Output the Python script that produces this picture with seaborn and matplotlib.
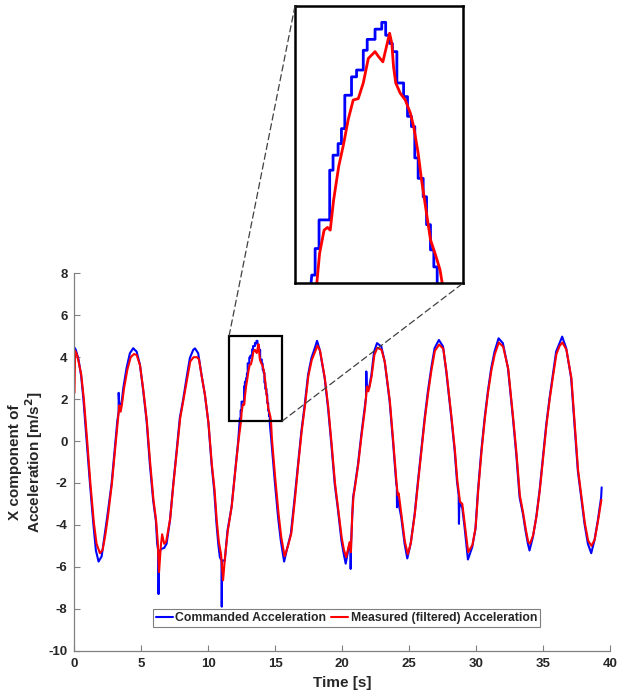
import numpy as np
import pandas as pd
import matplotlib
matplotlib.use("Agg")
import matplotlib.pyplot as plt
from matplotlib.patches import Rectangle, ConnectionPatch
import seaborn as sns

# ---------------- data ----------------
cmd_t = [0.00, 0.10, 0.30, 0.50, 0.66, 0.91, 1.16, 1.41, 1.60, 1.80, 2.03, 2.23, 2.45, 2.77, 3.02, 3.20,
         3.30, 3.30, 3.35, 3.52, 3.64, 3.89, 4.14, 4.39, 4.50, 4.64, 4.89, 5.14, 5.39, 5.63, 5.88, 6.08,
         6.18, 6.27, 6.28, 6.30, 6.50, 6.70, 6.88, 7.13, 7.38, 7.63, 7.87, 8.12, 8.37, 8.62, 8.87, 9.00,
         9.24, 9.49, 9.74, 10.00, 10.24, 10.44, 10.61, 10.74, 10.86, 10.98, 11.00, 11.03, 11.23, 11.43,
         11.73, 11.98, 12.23,
         12.35, 12.41, 12.41, 12.48, 12.48, 12.67, 12.67, 12.73, 12.73, 12.82, 12.82, 12.88, 12.88, 12.94,
         12.94, 13.06, 13.06, 13.15, 13.15, 13.27, 13.27, 13.34, 13.34, 13.48, 13.48, 13.60, 13.60, 13.67,
         13.67, 13.74, 13.74, 13.79, 13.79, 13.87, 13.87, 13.99, 13.99, 14.06, 14.06, 14.13, 14.13, 14.19,
         14.19, 14.25, 14.25, 14.34, 14.34, 14.40, 14.40, 14.47, 14.47, 14.53, 14.53, 14.59, 14.59,
         14.71, 14.96, 15.21, 15.41, 15.66, 15.91, 16.16, 16.45, 16.70, 16.95, 17.20, 17.45, 17.70, 17.95,
         18.12, 18.32, 18.69, 18.94, 19.19, 19.44, 19.69, 19.94, 20.11, 20.26, 20.45, 20.55, 20.62, 20.63,
         20.66, 20.81, 20.93, 21.18, 21.43, 21.68, 21.78, 21.80, 21.83, 22.00, 22.18, 22.38, 22.60, 22.92,
         23.17, 23.54, 23.79, 24.04, 24.08, 24.09, 24.12, 24.25, 24.41, 24.66, 24.86, 25.11, 25.41, 25.66,
         25.90, 26.16, 26.40, 26.65, 26.90, 27.22, 27.53, 27.77, 28.15, 28.40, 28.57, 28.70, 28.72, 28.75,
         28.97, 29.14, 29.39, 29.71, 29.95, 30.14, 30.39, 30.64, 30.88, 31.13, 31.38, 31.68, 32.00, 32.38,
         32.75, 33.00, 33.25, 33.50, 33.69, 33.87, 33.99, 34.24, 34.49, 34.74, 34.99, 35.24, 35.49, 35.73,
         35.98, 36.23, 36.43, 36.73, 37.10, 37.35, 37.60, 37.85, 38.10, 38.35, 38.60, 38.84, 39.09, 39.34,
         39.38]
cmd_v = [4.46, 4.35, 3.90, 3.10, 2.06, 0.00, -2.05, -3.95, -5.22, -5.75, -5.50, -4.59, -3.60, -2.05, -0.31, 0.95,
         1.40, 2.30, 1.73, 1.80, 2.50, 3.48, 4.19, 4.43, 4.35, 4.27, 3.64, 2.37, 0.95, -1.10, -2.84, -3.80,
         -4.90, -5.30, -7.30, -5.30, -5.14, -5.10, -4.90, -3.80, -2.05, -0.47, 1.11, 1.98, 3.00, 3.96, 4.35, 4.42,
         4.19, 3.16, 2.21, 0.90, -1.10, -2.37, -3.95, -4.90, -5.54, -5.70, -7.90, -5.70, -5.70, -4.27,
         -3.16, -1.58, 0.00,
         1.07, 1.07, 1.46, 1.46, 1.88, 1.88, 2.61, 2.61, 2.83, 2.83, 3.00, 3.00, 3.22, 3.22,
         3.71, 3.71, 3.98, 3.98, 4.08, 4.08, 4.37, 4.37, 4.53, 4.53, 4.68, 4.68, 4.78, 4.78,
         4.59, 4.59, 4.47, 4.47, 4.35, 4.35, 3.89, 3.89, 3.69, 3.69, 3.40, 3.40, 3.25, 3.25,
         2.79, 2.79, 2.49, 2.49, 2.22, 2.22, 1.81, 1.81, 1.44, 1.44, 1.19, 1.19, 0.85,
         0.00, -1.90, -3.64, -4.74, -5.75, -5.06, -4.43, -2.69, -1.10, 0.47, 1.74, 3.16, 3.96, 4.43,
         4.78, 4.35, 3.00, 1.58, -0.16, -2.05, -3.32, -4.74, -5.37, -5.85, -5.20, -4.90, -5.20, -6.10,
         -4.90, -2.69, -2.21, -1.10, 0.32, 1.58, 2.10, 3.32, 2.60, 2.53, 3.16, 4.27, 4.67, 4.51,
         3.80, 1.90, 0.00, -2.05, -2.20, -3.16, -2.70, -3.10, -3.64, -4.90, -5.60, -4.90, -3.48, -1.90,
         -0.47, 1.11, 2.37, 3.48, 4.43, 4.82, 4.51, 3.32, 1.11, -0.47, -1.90, -2.60, -3.95, -2.90,
         -3.20, -4.11, -5.65, -5.06, -4.20, -2.37, -0.47, 1.11, 2.37, 3.48, 4.27, 4.90, 4.67, 3.48,
         1.11, -0.63, -2.69, -3.48, -4.27, -4.90, -5.22, -4.59, -3.64, -2.37, -0.79, 0.79, 2.06, 3.16,
         4.27, 4.67, 4.98, 4.43, 3.00, 0.79, -1.42, -2.69, -3.95, -4.90, -5.35, -4.74, -3.80, -2.69,
         -2.21]

meas_t = [0.00, 0.05, 0.20, 0.50, 0.70, 0.95, 1.20, 1.45, 1.65, 1.90, 2.10, 2.30, 2.50, 2.80, 3.05, 3.25,
          3.35, 3.45, 3.55, 3.70, 3.95, 4.20, 4.45, 4.65, 4.90, 5.15, 5.40, 5.65, 5.90, 6.10, 6.22, 6.32,
          6.45, 6.55, 6.70, 6.85, 7.15, 7.40, 7.65, 7.90, 8.15, 8.40, 8.65, 8.90, 9.15, 9.30, 9.50, 9.75,
          10.02, 10.26, 10.46, 10.63, 10.78, 10.95, 11.10, 11.25, 11.45, 11.75, 12.00, 12.25,
          12.44, 12.49, 12.57, 12.63, 12.68, 12.74, 12.83, 12.92, 13.00, 13.09, 13.18, 13.27, 13.36, 13.48,
          13.54, 13.62, 13.68, 13.74, 13.78, 13.81, 13.85, 13.93, 14.02, 14.11, 14.17, 14.25, 14.31, 14.40,
          14.47, 14.57, 14.64, 14.68,
          14.75, 15.00, 15.25, 15.45, 15.70, 15.95, 16.20, 16.48, 16.72, 16.97, 17.22, 17.47, 17.72, 17.97,
          18.15, 18.35, 18.70, 18.96, 19.21, 19.46, 19.71, 19.96, 20.13, 20.30, 20.45, 20.55, 20.65, 20.75,
          20.85, 20.95, 21.20, 21.45, 21.70, 21.85, 21.95, 22.05, 22.20, 22.40, 22.62, 22.94, 23.19, 23.56,
          23.81, 24.06, 24.15, 24.22, 24.43, 24.68, 24.90, 25.13, 25.43, 25.68, 25.92, 26.18, 26.42, 26.67,
          26.92, 27.24, 27.55, 27.79, 28.17, 28.42, 28.60, 28.80, 28.97, 29.16, 29.41, 29.73, 29.97, 30.16,
          30.41, 30.66, 30.90, 31.15, 31.40, 31.70, 32.02, 32.40, 32.77, 33.02, 33.27, 33.52, 33.71, 33.89,
          34.02, 34.26, 34.51, 34.76, 35.01, 35.26, 35.51, 35.75, 36.00, 36.25, 36.45, 36.75, 37.12, 37.37,
          37.62, 37.87, 38.12, 38.37, 38.62, 38.86, 39.11, 39.36]
meas_v = [2.30, 4.30, 4.10, 3.20, 2.00, 0.00, -2.10, -3.90, -4.90, -5.35, -5.20, -4.50, -3.60, -2.00, -0.30, 1.00,
          1.70, 1.40, 1.75, 2.50, 3.40, 4.00, 4.15, 4.10, 3.60, 2.40, 1.00, -1.00, -2.80, -3.80, -4.80, -6.25,
          -5.00, -4.45, -4.90, -4.80, -3.70, -2.00, -0.45, 1.10, 2.00, 2.90, 3.80, 4.00, 4.00, 3.90, 3.10, 2.20,
          0.80, -1.10, -2.30, -3.80, -4.80, -5.40, -6.64, -5.50, -4.30, -3.10, -1.50, 0.00,
          0.95, 1.39, 1.73, 1.77, 1.73, 2.17, 2.66, 3.00, 3.35, 3.64, 3.66, 3.89, 4.25, 4.35,
          4.28, 4.20, 4.41, 4.62, 4.47, 4.13, 3.89, 3.74, 3.64, 3.45, 3.25, 2.86, 2.47, 1.98,
          1.59, 1.34, 1.15, 0.95,
          0.10, -1.80, -3.50, -4.60, -5.50, -5.00, -4.40, -2.70, -1.10, 0.45, 1.70, 3.10, 3.85, 4.25,
          4.55, 4.30, 3.00, 1.60, -0.15, -2.00, -3.30, -4.60, -5.20, -5.54, -5.10, -4.82, -5.30, -3.50,
          -2.60, -2.20, -1.10, 0.30, 1.55, 2.60, 2.37, 2.60, 3.10, 4.10, 4.45, 4.35, 3.75, 1.90,
          0.00, -2.00, -2.60, -2.50, -3.55, -4.80, -5.40, -4.85, -3.45, -1.90, -0.47, 1.10, 2.30, 3.40,
          4.30, 4.60, 4.40, 3.30, 1.10, -0.45, -1.90, -2.90, -3.00, -4.00, -5.30, -4.95, -4.10, -2.35,
          -0.47, 1.10, 2.35, 3.40, 4.15, 4.70, 4.50, 3.45, 1.10, -0.60, -2.60, -3.45, -4.20, -4.80,
          -4.90, -4.50, -3.60, -2.35, -0.80, 0.78, 2.05, 3.10, 4.15, 4.55, 4.70, 4.35, 3.00, 0.80,
          -1.40, -2.65, -3.90, -4.75, -5.00, -4.70, -3.80, -2.80]

series_names = ["Commanded Acceleration", "Measured (filtered) Acceleration"]
x_ticks = [0, 5, 10, 15, 20, 25, 30, 35, 40]
y_ticks = [-10, -8, -6, -4, -2, 0, 2, 4, 6, 8]
zoom_box_x = [11.55, 15.51]
zoom_box_y = [0.95, 5.02]
inset_x = [12.05, 15.05]
inset_y = [0.95, 5.02]

# ---------------- styling ----------------
sns.set_style("white")
plt.rcParams["font.family"] = ["Liberation Sans", "DejaVu Sans"]
plt.rcParams["font.weight"] = "bold"
plt.rcParams["axes.labelweight"] = "bold"
plt.rcParams["axes.unicode_minus"] = False

BLUE = "#0000FF"
RED = "#FF0000"
AXC = "#808080"
TXT = "#262626"

cmd = pd.DataFrame({"t": cmd_t, "a": cmd_v})
meas = pd.DataFrame({"t": meas_t, "a": meas_v})

fig = plt.figure(figsize=(6.18, 6.96), dpi=100)
ax = fig.add_axes([0.1205, 0.0651, 0.8665, 0.5422])

sns.lineplot(data=cmd, x="t", y="a", estimator=None, sort=False, color=BLUE,
             lw=1.5, label=series_names[0], ax=ax)
sns.lineplot(data=meas, x="t", y="a", estimator=None, sort=False, color=RED,
             lw=1.5, label=series_names[1], ax=ax)

ax.set_xlim(0, 40)
ax.set_ylim(-10, 8)
ax.set_xticks(x_ticks)
ax.set_yticks(y_ticks)
ax.tick_params(bottom=True, left=True, top=False, right=False,
               direction="in", length=4, width=0.8, color=AXC, labelcolor=TXT,
               labelsize=9.5, pad=5)
for lab in ax.get_xticklabels() + ax.get_yticklabels():
    lab.set_fontweight("bold")
for s in ["top", "right"]:
    ax.spines[s].set_visible(False)
for s in ["left", "bottom"]:
    ax.spines[s].set_color(AXC)
    ax.spines[s].set_linewidth(0.9)

ax.set_xlabel("Time [s]", fontsize=11, fontweight="bold", color=TXT)
ax.set_ylabel("X component of\nAcceleration [m/s$^\\mathbf{2}$]", fontsize=11,
              fontweight="bold", color=TXT, linespacing=1.1)
ax.xaxis.set_label_coords(0.5, -0.068)
ax.yaxis.set_label_coords(-0.055, 0.5)

leg = ax.legend(loc="center", bbox_to_anchor=(0.508, 0.087), ncol=2, frameon=True,
                fancybox=False, edgecolor="#7f7f7f", framealpha=1,
                handlelength=1.4, handletextpad=0.2, columnspacing=0.4,
                borderpad=0.25, borderaxespad=0,
                prop={"weight": "bold", "size": 8.8})
leg.get_frame().set_linewidth(0.8)
for txt in leg.get_texts():
    txt.set_color(TXT)

# zoom rectangle
rect = Rectangle((zoom_box_x[0], zoom_box_y[0]), zoom_box_x[1] - zoom_box_x[0],
                 zoom_box_y[1] - zoom_box_y[0], fill=False, edgecolor="black",
                 lw=1.6, zorder=5)
ax.add_patch(rect)

# inset
axins = fig.add_axes([0.4773, 0.593, 0.2718, 0.3984])
sns.lineplot(data=cmd, x="t", y="a", estimator=None, sort=False, color=BLUE,
             lw=2.0, ax=axins, legend=False)
sns.lineplot(data=meas, x="t", y="a", estimator=None, sort=False, color=RED,
             lw=2.0, ax=axins, legend=False)
axins.set_xlim(*inset_x)
axins.set_ylim(*inset_y)
axins.set_xticks([])
axins.set_yticks([])
axins.set_xlabel("")
axins.set_ylabel("")
for s in axins.spines.values():
    s.set_visible(True)
    s.set_color("black")
    s.set_linewidth(1.8)

# connector lines
c1 = ConnectionPatch(xyA=(zoom_box_x[0], zoom_box_y[1]), coordsA=ax.transData,
                     xyB=(0, 1), coordsB=axins.transAxes, color="#404040",
                     lw=0.9, ls=(0, (5, 3)), zorder=10)
c2 = ConnectionPatch(xyA=(zoom_box_x[1], zoom_box_y[0]), coordsA=ax.transData,
                     xyB=(1, 0), coordsB=axins.transAxes, color="#404040",
                     lw=0.9, ls=(0, (5, 3)), zorder=10)
fig.add_artist(c1)
fig.add_artist(c2)

fig.savefig("out.png", dpi=100)
